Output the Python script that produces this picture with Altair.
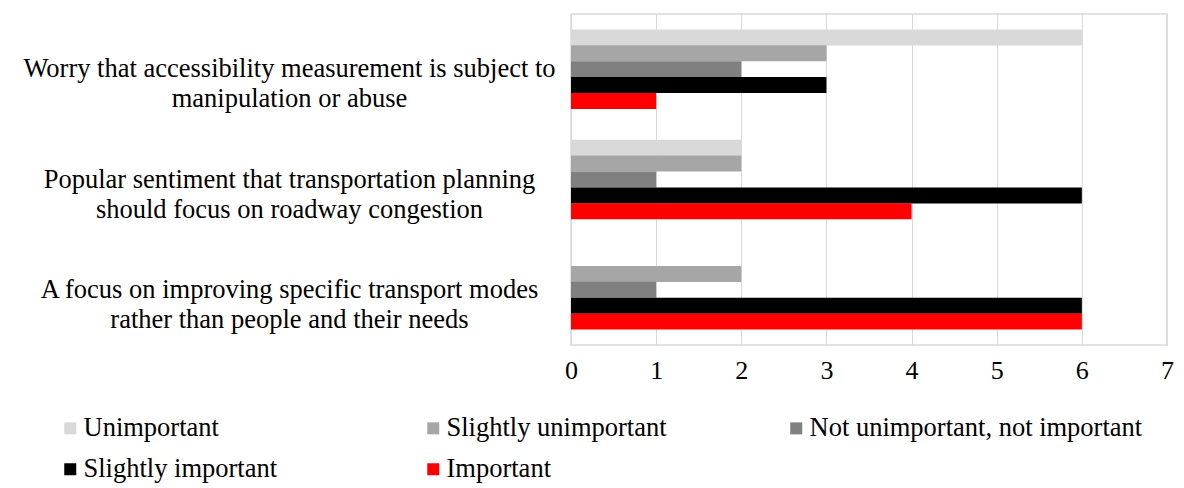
import altair as alt
import pandas as pd

categories = [
    "Worry that accessibility measurement is subject to|manipulation or abuse",
    "Popular sentiment that transportation planning|should focus on roadway congestion",
    "A focus on improving specific transport modes|rather than people and their needs",
]
series = ["Unimportant", "Slightly unimportant", "Not unimportant, not important",
          "Slightly important", "Important"]
colors = ["#D9D9D9", "#A6A6A6", "#808080", "#000000", "#FF0000"]
values = {
    "Unimportant": [6, 2, 0],
    "Slightly unimportant": [3, 2, 2],
    "Not unimportant, not important": [2, 1, 1],
    "Slightly important": [3, 6, 6],
    "Important": [1, 4, 6],
}

rows = []
for s in series:
    for c, v in zip(categories, values[s]):
        rows.append({"category": c, "series": s, "value": v})
df = pd.DataFrame(rows)

FONT = "Liberation Serif"

chart = alt.Chart(df).mark_bar(size=16).encode(
    x=alt.X("value:Q", scale=alt.Scale(domain=[0, 7], nice=False),
            axis=alt.Axis(values=list(range(8)), title=None, domain=False, ticks=False,
                          grid=True, gridColor="#D9D9D9", labelFontSize=26,
                          labelPadding=12, labelFont=FONT, labelColor="#000000",
                          labelFlush=False)),
    y=alt.Y("category:N", sort=categories,
            scale=alt.Scale(paddingInner=0.28, paddingOuter=0.14),
            axis=alt.Axis(title=None, domain=False, ticks=False,
                          labelExpr="split(datum.value, '|')",
                          labelAlign="center", labelBaseline="middle",
                          labelPadding=282, labelFontSize=26.5, labelFont=FONT,
                          labelColor="#000000", labelLineHeight=30, labelLimit=0)),
    yOffset=alt.YOffset("series:N", sort=series),
    color=alt.Color("series:N", sort=series,
                    scale=alt.Scale(domain=series, range=colors),
                    legend=alt.Legend(title=None, orient="none", legendX=-514, legendY=401,
                                      direction="horizontal",
                                      columns=3, symbolType="square", symbolSize=144,
                                      symbolStrokeWidth=0, labelFontSize=26.5, labelFont=FONT,
                                      labelColor="#000000", columnPadding=3, rowPadding=14,
                                      gridAlign="all", labelLimit=0, symbolOffset=0,
                                      labelOffset=0)),
).properties(
    width=596, height=331,
    autosize=alt.AutoSizeParams(type="none"),
    padding={"left": 563, "top": 6, "right": 8, "bottom": 143},
).configure_view(stroke="#D9D9D9", strokeWidth=1.5)

chart.save("out.html", embed_options={"renderer": "svg", "actions": False})
